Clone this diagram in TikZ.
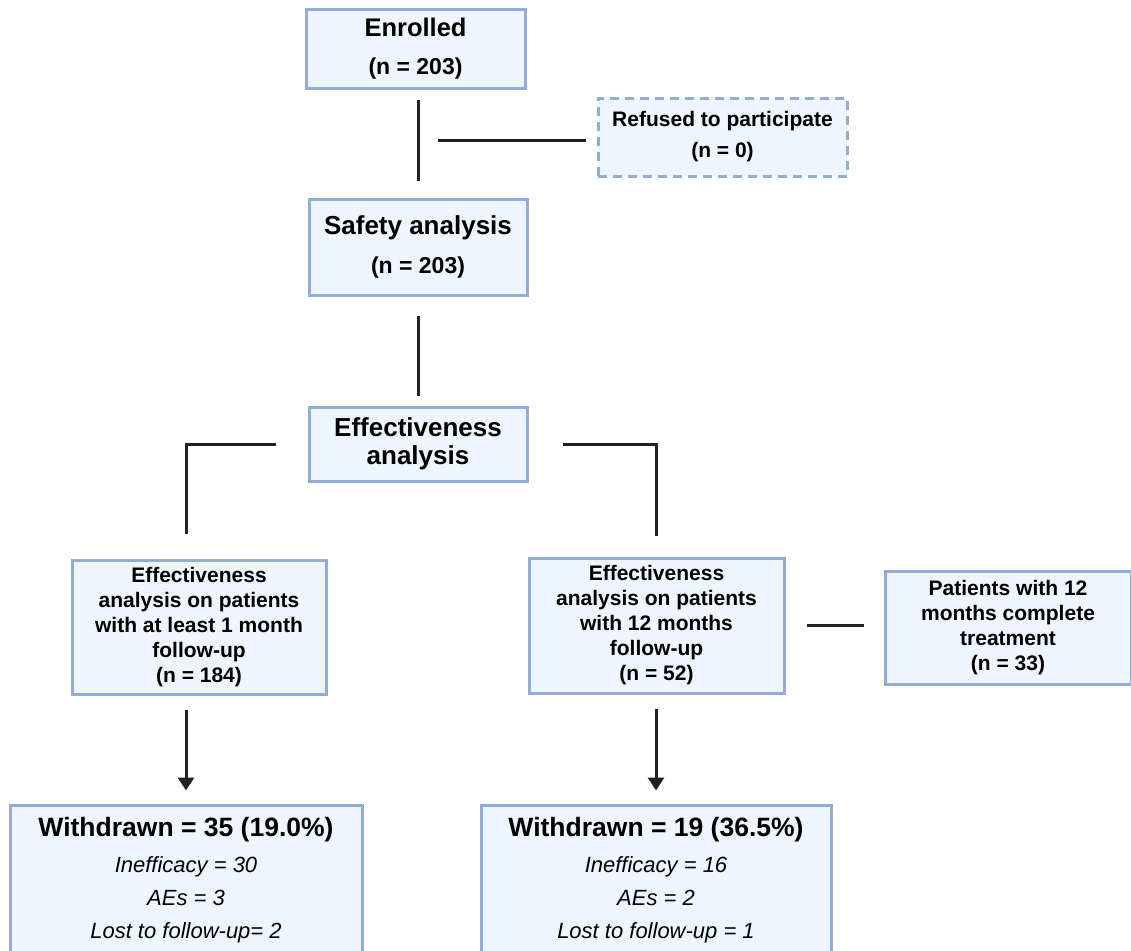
\documentclass[tikz,border=0pt]{standalone}
\usepackage{fontspec}
\setmainfont{Liberation Sans}
\usetikzlibrary{positioning, arrows.meta}
\definecolor{boxfill}{RGB}{238,245,253}
\definecolor{boxline}{RGB}{146,172,216}
\definecolor{linkcol}{RGB}{34,34,34}
\tikzset{
box/.style={draw=boxline, fill=boxfill, line width=3pt, align=center, inner sep=0pt}, % every blue box
dashbox/.style={box, dash pattern=on 9pt off 6pt}, % the box of the excluded patients
link/.style={draw=linkcol, line width=3pt}, % plain connector
arrowlink/.style={link, -{Triangle[width=16pt,length=13pt]}}, % connector with a head
}

\begin{document}
\begin{tikzpicture}[x=1pt, y=-1pt]
    \useasboundingbox (0,0) rectangle (1131,950);

    \node[box, minimum width=219pt, minimum height=78pt, font=\fontsize{23}{38}\selectfont\bfseries] (enrolled) at (415.5,49) {{\fontsize{25.5}{38}\selectfont Enrolled}\\(n = 203)};
    \node[dashbox, minimum width=249pt, minimum height=78pt, font=\fontsize{21}{31}\selectfont\bfseries] (refused) at (722.5,137) {Refused to participate\\(n = 0)};
    \node[box, minimum width=218pt, minimum height=96pt, font=\fontsize{23}{39}\selectfont\bfseries] (safety) at (418,247) {{\fontsize{26}{39}\selectfont Safety analysis}\\(n = 203)};
    \node[box, minimum width=218pt, minimum height=74pt, font=\fontsize{26}{28}\selectfont\bfseries] (effect) at (418,444) {Effectiveness\\analysis};

    \node[box, minimum width=254pt, minimum height=134pt, font=\fontsize{21}{25}\selectfont\bfseries] (onemonth) at (199,627) {Effectiveness\\analysis on patients\\with at least 1 month\\follow-up\\(n = 184)};
    \node[box, minimum width=255pt, minimum height=135pt, font=\fontsize{21}{25}\selectfont\bfseries] (twelvemonth) at (656.5,625.5) {Effectiveness\\analysis on patients\\with 12 months\\follow-up\\(n = 52)};
    \node[box, minimum width=246pt, minimum height=113pt, font=\fontsize{21}{25}\selectfont\bfseries] (complete) at (1008,627.5) {Patients with 12\\months complete\\treatment\\(n = 33)};

    \node[box, minimum width=352pt, minimum height=150pt, font=\fontsize{22}{33}\selectfont\itshape] (withdrawnA) at (186,880) {{\fontsize{26.5}{33}\selectfont\bfseries\upshape Withdrawn = 35 (19.0\%)}\\[3pt]Inefficacy = 30\\AEs = 3\\Lost to follow-up= 2};
    \node[box, minimum width=350pt, minimum height=150pt, font=\fontsize{22}{33}\selectfont\itshape] (withdrawnB) at (656,880) {{\fontsize{26.5}{33}\selectfont\bfseries\upshape Withdrawn = 19 (36.5\%)}\\[3pt]Inefficacy = 16\\AEs = 2\\Lost to follow-up = 1};

    \coordinate (refjoin) at (438,140);

    \draw[link, shorten <=10pt, shorten >=17pt] (enrolled.south -| safety.north) -- (safety.north);
    \draw[link, shorten >=11pt] (refjoin) -- (refjoin -| refused.west);
    \draw[link, shorten <=19pt, shorten >=10pt] (safety.south) -- (effect.north);
    \draw[link, shorten <=32pt, shorten >=25pt] (effect.west) -| (withdrawnA.north |- onemonth.north);
    \draw[link, shorten <=34pt, shorten >=21pt] (effect.east) -| (twelvemonth.north);
    \draw[link, shorten <=21pt, shorten >=20pt] (twelvemonth.east) -- (twelvemonth.east -| complete.west);
    \draw[arrowlink, shorten <=14pt, shorten >=13pt] (withdrawnA.north |- onemonth.south) -- (withdrawnA.north);
    \draw[arrowlink, shorten <=14pt, shorten >=13pt] (withdrawnB.north |- twelvemonth.south) -- (withdrawnB.north);
\end{tikzpicture}
\end{document}
